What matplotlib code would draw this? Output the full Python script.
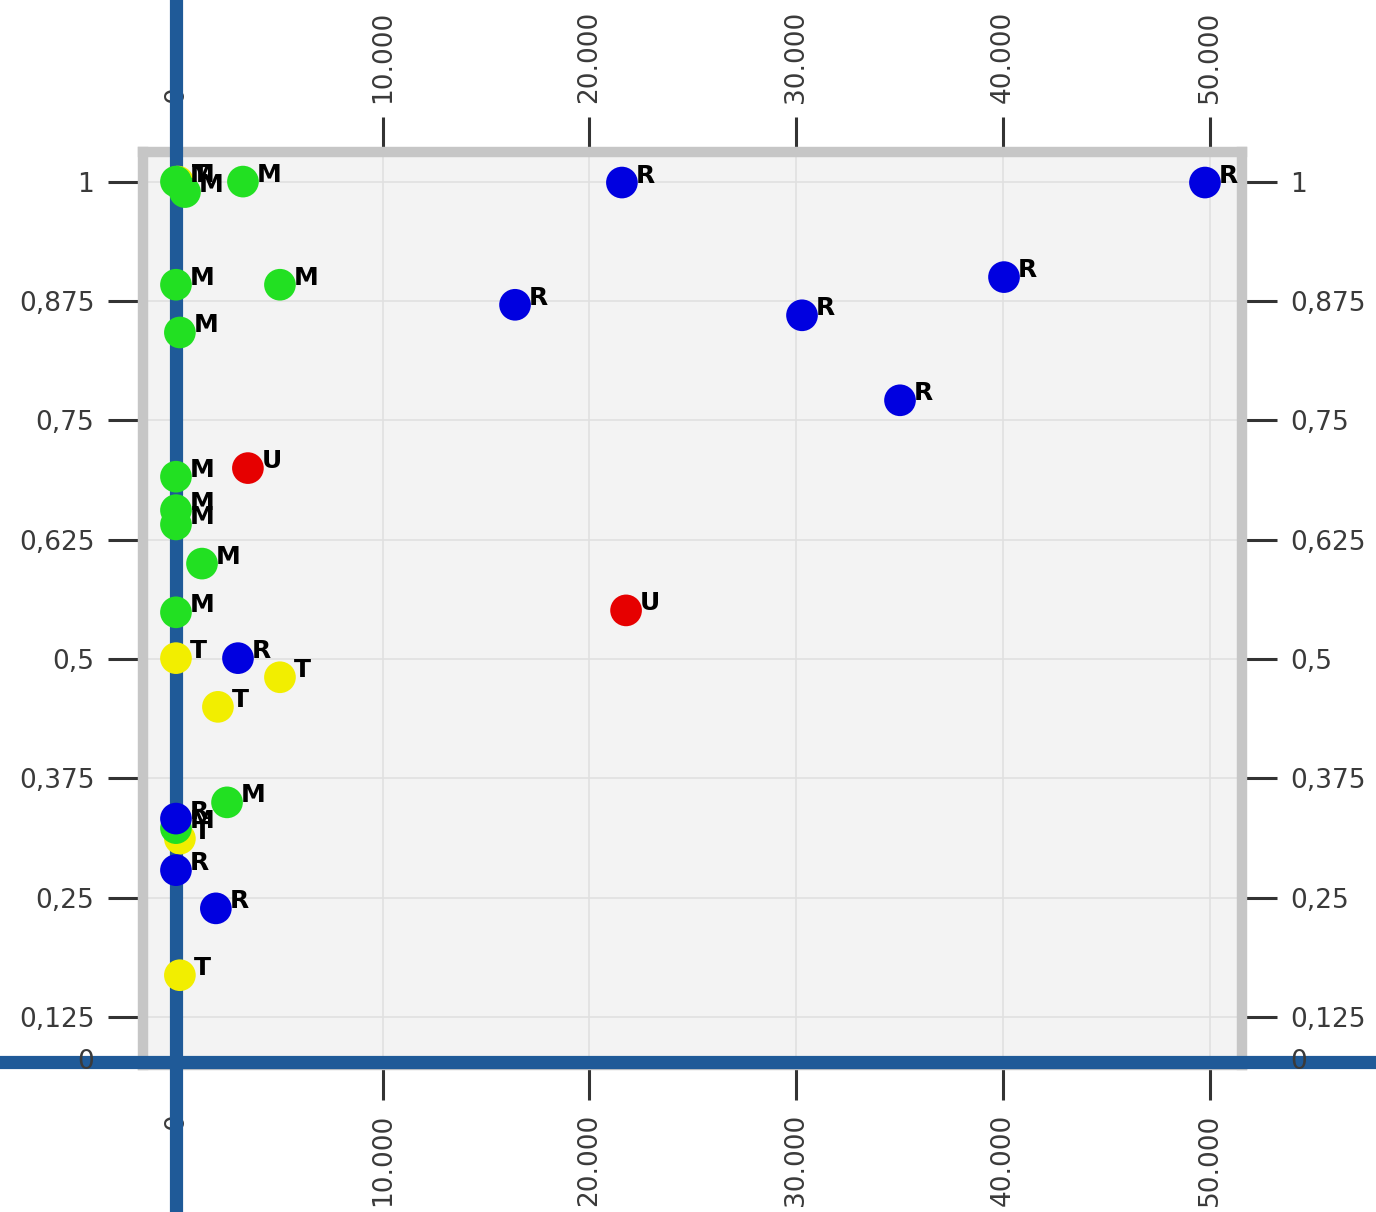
import matplotlib
matplotlib.use("Agg")
import matplotlib.pyplot as plt
from matplotlib.ticker import FuncFormatter

# scatter data per class: x value, ratio, drawn in this order (T first, R on top)
t_x = [100, 0, 5030, 2030, 190, 190]
t_y = [1.0, 0.501, 0.481, 0.450, 0.312, 0.169]

m_x = [0, 435, 3240, 0, 5030, 190, 0, 0, 0, 1260, 0, 2470, 0]
m_y = [1.0, 0.989, 1.0, 0.892, 0.892, 0.842, 0.691, 0.656, 0.641, 0.600, 0.549, 0.350, 0.323]

r_x = [21570, 49770, 40050, 16400, 30280, 35020, 3000, 0, 0, 1930]
r_y = [0.999, 0.999, 0.900, 0.871, 0.860, 0.771, 0.501, 0.333, 0.279, 0.239]

u_x = [3480, 21770]
u_y = [0.700, 0.551]

series = [
    ("T", t_x, t_y, "#f2ee00"),
    ("M", m_x, m_y, "#22e022"),
    ("R", r_x, r_y, "#0000e0"),
    ("U", u_x, u_y, "#e60000"),
]

x_ticks = [0, 10000, 20000, 30000, 40000, 50000]
y_ticks = [0.125, 0.25, 0.375, 0.5, 0.625, 0.75, 0.875, 1.0]
origin_label = "0"

AXIS_BLUE = "#1f5a98"
TEXT_GREY = "#3a3a3a"

fig = plt.figure(figsize=(13.76, 12.12), dpi=100)
ax = fig.add_axes([0.1039, 0.1213, 0.7987, 0.7533])
ax.set_facecolor("#f3f3f3")

ax.set_xlim(-1596, 51560)
ax.set_ylim(0.075, 1.031)

for name, xs, ys, col in series:
    ax.scatter(xs, ys, s=520, color=col, edgecolors="none", zorder=3)
    for x, y in zip(xs, ys):
        ax.annotate(name, (x, y), xytext=(10, 0), textcoords="offset points",
                    ha="left", va="baseline", fontsize=18, fontweight="bold",
                    color="black", zorder=4)

# thick origin lines running across the whole figure
ax.plot([0, 0], [-0.2, 1.2], color=AXIS_BLUE, lw=9.5, zorder=2.4,
        clip_on=False, transform=ax.get_xaxis_transform(), solid_capstyle="butt")
ax.plot([-0.2, 1.2], [0.003, 0.003], color=AXIS_BLUE, lw=9.5, zorder=2.4,
        clip_on=False, transform=ax.transAxes, solid_capstyle="butt")

ax.set_xticks(x_ticks)
ax.set_yticks(y_ticks)
ax.xaxis.set_major_formatter(FuncFormatter(lambda v, p: f"{int(v):,}".replace(",", ".")))
ax.yaxis.set_major_formatter(FuncFormatter(lambda v, p: f"{v:g}".replace(".", ",")))

ax.tick_params(axis="both", which="major", direction="out", length=25, width=2.2,
               color="#333333", pad=10, labelsize=19, labelcolor=TEXT_GREY,
               top=True, right=True, labeltop=True, labelright=True)
ax.tick_params(axis="x", labelrotation=90)

ax.grid(True, color="#e0e0e0", linewidth=1.2)

for sp in ax.spines.values():
    sp.set_color("#c6c6c6")
    sp.set_linewidth(7.5)
    sp.set_zorder(2.3)

# "0" where the horizontal origin line meets the left and right axes
for xa, ha, dx in [(0, "right", -35), (1, "left", 35)]:
    ax.annotate(origin_label, (xa, 0.003), xycoords="axes fraction",
                xytext=(dx, 0), textcoords="offset points", ha=ha, va="center",
                fontsize=19, color=TEXT_GREY, zorder=5, annotation_clip=False)

fig.savefig("out.png", dpi=100, facecolor="white")
